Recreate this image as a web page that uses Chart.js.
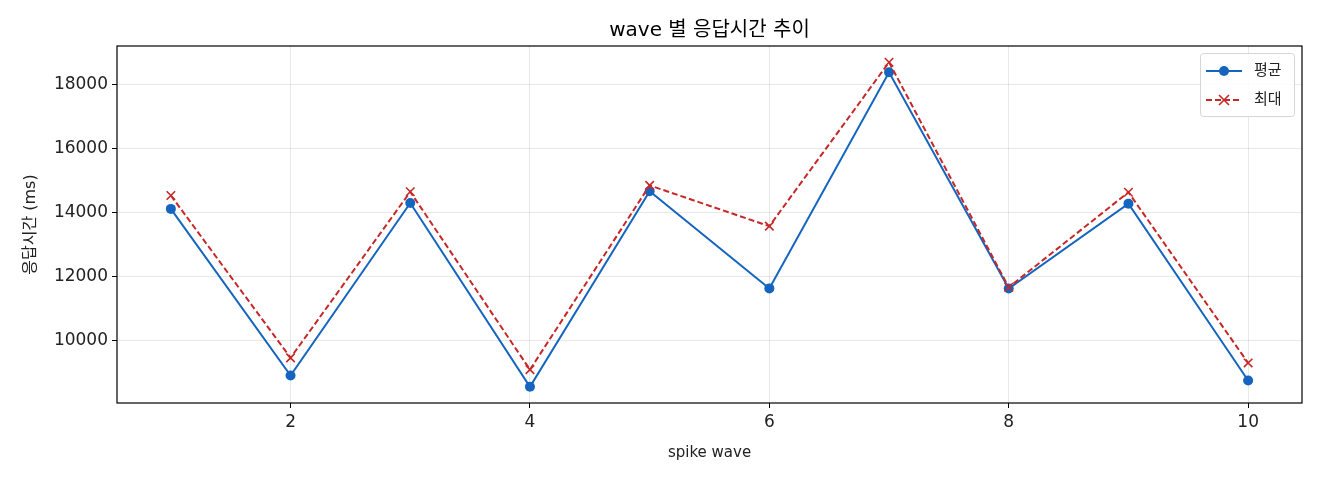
<!DOCTYPE html>
<html>
<head>
<meta charset="utf-8">
<script src="https://cdn.jsdelivr.net/npm/chart.js@4.4.1/dist/chart.umd.min.js"></script>
<style>
  html, body { margin: 0; padding: 0; background: #fff; }
  #wrap { width: 1320px; height: 480px; }
</style>
</head>
<body>
<div id="wrap"><canvas id="c" width="1320" height="480"></canvas></div>
<script>
// wave 번호와 값
const waves = [1, 2, 3, 4, 5, 6, 7, 8, 9, 10];
const avgMs = [14125, 8915, 14310, 8565, 14680, 11640, 18395, 11635, 14290, 8760];
const maxMs = [14545, 9470, 14660, 9100, 14860, 13585, 18710, 11675, 14645, 9310];
const seriesNames = ['평균', '최대'];
const xTicks = [2, 4, 6, 8, 10];
const yTicks = [10000, 12000, 14000, 16000, 18000];

const BLUE = '#1565c0';
const RED = '#c62828';
const FONT = "'DejaVu Sans', 'Noto Sans CJK KR', sans-serif";

const toPoints = (ys) => waves.map((w, i) => ({ x: w, y: ys[i] }));

// matplotlib 식 여백 5%
const allY = avgMs.concat(maxMs);
const yMin = Math.min(...allY), yMax = Math.max(...allY);
const yPad = (yMax - yMin) * 0.05;
const xPad = (waves[waves.length - 1] - waves[0]) * 0.05;

// 차트 영역 테두리
const frame = {
  id: 'frame',
  afterDatasetsDraw(chart) {
    const a = chart.chartArea, ctx = chart.ctx;
    ctx.save();
    ctx.strokeStyle = '#000';
    ctx.lineWidth = 1.2;
    ctx.strokeRect(a.left, a.top, a.right - a.left, a.bottom - a.top);
    ctx.restore();
  }
};

// 범례 (선 + 마커, 오른쪽 위)
const legendBox = {
  id: 'legendBox',
  afterDraw(chart) {
    const ctx = chart.ctx, a = chart.chartArea;
    const w = 94, h = 63;
    const x0 = a.right - 8 - w, y0 = a.top + 7;
    ctx.save();
    ctx.fillStyle = 'rgba(255,255,255,0.85)';
    ctx.strokeStyle = '#d5d5d5';
    ctx.lineWidth = 1;
    ctx.beginPath();
    ctx.roundRect(x0 + 0.5, y0 + 0.5, w, h, 3);
    ctx.fill();
    ctx.stroke();
    chart.data.datasets.forEach((ds, i) => {
      const cy = y0 + 18 + i * 29;
      const lx = x0 + 6, rx = x0 + 42, mx = (lx + rx) / 2;
      ctx.strokeStyle = ds.borderColor;
      ctx.lineWidth = 2;
      ctx.setLineDash(ds.borderDash || []);
      ctx.beginPath();
      ctx.moveTo(lx, cy);
      ctx.lineTo(rx, cy);
      ctx.stroke();
      ctx.setLineDash([]);
      if (ds.pointStyle === 'circle') {
        ctx.fillStyle = ds.borderColor;
        ctx.beginPath();
        ctx.arc(mx, cy, 5, 0, Math.PI * 2);
        ctx.fill();
      } else {
        ctx.lineWidth = 1.6;
        ctx.beginPath();
        ctx.moveTo(mx - 5, cy - 5); ctx.lineTo(mx + 5, cy + 5);
        ctx.moveTo(mx + 5, cy - 5); ctx.lineTo(mx - 5, cy + 5);
        ctx.stroke();
      }
      ctx.fillStyle = '#222';
      ctx.font = '15px ' + FONT;
      ctx.textBaseline = 'middle';
      ctx.textAlign = 'left';
      ctx.fillText(ds.label, x0 + 54, cy);
    });
    ctx.restore();
  }
};

new Chart(document.getElementById('c'), {
  type: 'line',
  data: {
    datasets: [
      {
        label: seriesNames[0],
        data: toPoints(avgMs),
        borderColor: BLUE,
        backgroundColor: BLUE,
        borderWidth: 2,
        pointStyle: 'circle',
        pointRadius: 5,
        pointBorderWidth: 0,
        tension: 0,
        order: 2
      },
      {
        label: seriesNames[1],
        data: toPoints(maxMs),
        borderColor: RED,
        backgroundColor: RED,
        borderWidth: 2,
        borderDash: [6, 3],
        pointStyle: 'cross',
        pointRotation: 45,
        pointRadius: 6,
        pointBorderWidth: 1.6,
        tension: 0,
        order: 1
      }
    ]
  },
  options: {
    responsive: false,
    animation: false,
    devicePixelRatio: 1,
    layout: { padding: { left: 0, right: 18, top: 0, bottom: 0 } },
    plugins: {
      legend: { display: false },
      tooltip: { enabled: false },
      title: {
        display: true,
        fullSize: false,
        text: 'wave 별 응답시간 추이',
        color: '#000',
        font: { family: FONT, size: 20, weight: 'normal', lineHeight: 1.2 },
        padding: { top: 19, bottom: 3 }
      }
    },
    scales: {
      x: {
        type: 'linear',
        min: waves[0] - xPad,
        max: waves[waves.length - 1] + xPad,
        afterBuildTicks: (s) => { s.ticks = xTicks.map(v => ({ value: v })); },
        afterFit: (s) => { s.height = 77; },
        grid: { color: 'rgba(0,0,0,0.09)', tickColor: '#000', tickLength: 5, lineWidth: 1 },
        border: { display: false },
        ticks: { color: '#222', font: { family: FONT, size: 17 }, padding: 4, callback: (v) => String(v) },
        title: { display: true, text: 'spike wave', color: '#222', font: { family: FONT, size: 15 }, padding: { top: 6, bottom: 18 } }
      },
      y: {
        min: yMin - yPad,
        max: yMax + yPad,
        afterBuildTicks: (s) => { s.ticks = yTicks.map(v => ({ value: v })); },
        afterFit: (s) => { s.width = 117; },
        grid: { color: 'rgba(0,0,0,0.09)', tickColor: '#000', tickLength: 5, lineWidth: 1 },
        border: { display: false },
        ticks: { color: '#222', font: { family: FONT, size: 17 }, padding: 4, callback: (v) => String(v) },
        title: { display: true, text: '응답시간 (ms)', color: '#222', font: { family: FONT, size: 16 }, padding: { top: 21, bottom: 0 } }
      }
    }
  },
  plugins: [frame, legendBox]
});
</script>
</body>
</html>
